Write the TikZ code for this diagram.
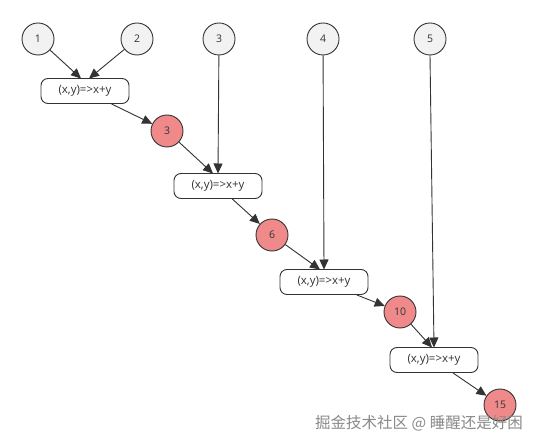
\documentclass[tikz,border=0pt]{standalone}
\usepackage{fontspec}
\setmainfont{Open Sans}
\newfontfamily\cjk{Noto Sans CJK SC}
\usetikzlibrary{arrows.meta}
\definecolor{edge}{HTML}{333333}
\definecolor{grayfill}{HTML}{F2F2F2}
\definecolor{redfill}{HTML}{F08A8A}
\definecolor{wmark}{HTML}{8A8A8A}
\tikzset{
  inode/.style={circle, draw=edge, line width=0.9pt, fill=grayfill, minimum size=32pt, inner sep=0pt, font=\fontsize{10.5}{12}\selectfont, text=edge},
  rnode/.style={circle, draw=edge, line width=0.9pt, fill=redfill, minimum size=32pt, inner sep=0pt, font=\fontsize{10.5}{12}\selectfont, text=edge},
  fbox/.style={rectangle, rounded corners=7pt, draw=edge, line width=0.9pt, fill=white, minimum width=88pt, minimum height=25pt, inner sep=0pt, font=\fontsize{11.5}{13}\selectfont, text=edge},
  link/.style={draw=edge, line width=0.9pt, -{Triangle[length=10pt,width=9pt]}}
}
\begin{document}
\begin{tikzpicture}[x=1pt,y=-1pt]
\useasboundingbox (0,0) rectangle (537,443);
\fill[white] (0,0) rectangle (537,443);
\node[inode] (n1) at (38,39) {1};
\node[inode] (n2) at (137,39) {2};
\node[inode] (n3) at (219,39) {3};
\node[inode] (n4) at (323,39) {4};
\node[inode] (n5) at (430,39) {5};
\node[fbox] (b1) at (85,91) {(x,y)=>x+y};
\node[fbox] (b2) at (218,186) {(x,y)=>x+y};
\node[fbox] (b3) at (324,282) {(x,y)=>x+y};
\node[fbox] (b4) at (434,360) {(x,y)=>x+y};
\node[rnode] (r3) at (167,131) {3};
\node[rnode] (r6) at (272,235) {6};
\node[rnode] (r10) at (400,312) {10};
\node[rnode] (r15) at (500,405) {15};
\coordinate (t1a) at (81,78.5);
\coordinate (t1b) at (89,78.5);
\coordinate (t2a) at (213,173.5);
\coordinate (t2b) at (218,173.5);
\coordinate (t3a) at (320,269.5);
\coordinate (t3b) at (324,269.5);
\coordinate (t4a) at (432,347.5);
\coordinate (t4b) at (434,347.5);
\draw[link] (n1) -- (t1a);
\draw[link] (n2) -- (t1b);
\draw[link] (b1) -- (r3);
\draw[link] (r3) -- (t2a);
\draw[link] (n3) -- (t2b);
\draw[link] (b2) -- (r6);
\draw[link] (r6) -- (t3a);
\draw[link] (n4) -- (t3b);
\draw[link] (b3) -- (r10);
\draw[link] (r10) -- (t4a);
\draw[link] (n5.south) -- (t4b);
\draw[link] (b4) -- (r15);
\node[anchor=west, text=wmark, font=\cjk\fontsize{15.5}{17}\selectfont, inner sep=0pt] (wm) at (315,423) {掘金技术社区 @ 睡醒还是好困};
\end{tikzpicture}
\end{document}
